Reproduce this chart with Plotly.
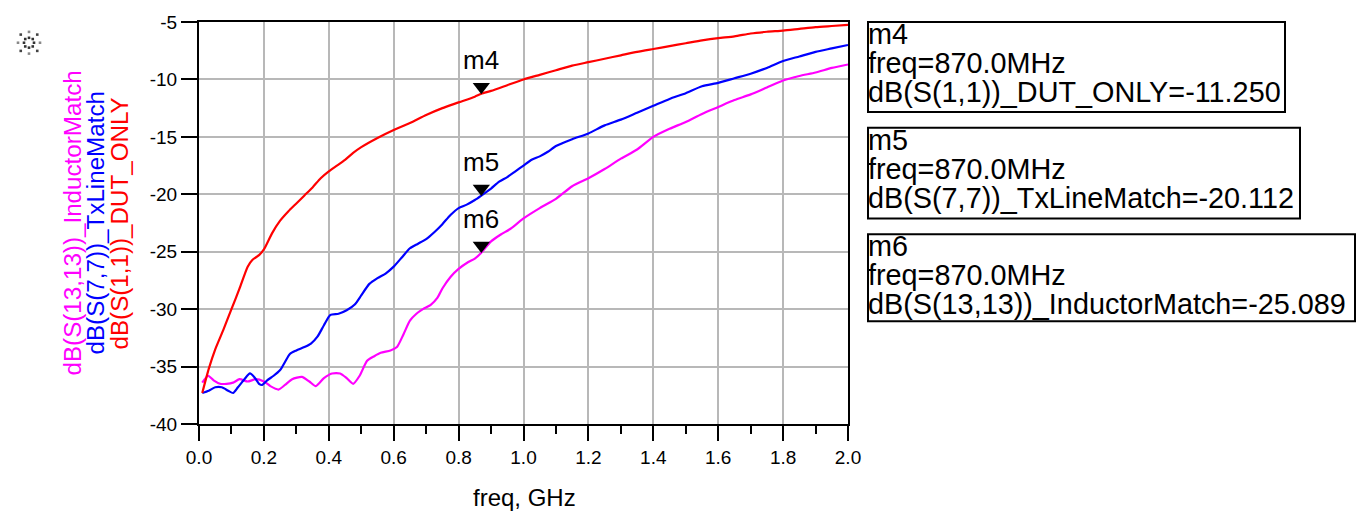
import plotly.graph_objects as go

# ---------------- data ----------------
freq_dut = [0.01, 0.03, 0.05, 0.075, 0.1, 0.125, 0.15, 0.165, 0.185, 0.2, 0.225, 0.25, 0.275, 0.3,
            0.325, 0.35, 0.375, 0.4, 0.425, 0.45, 0.475, 0.5, 0.55, 0.6, 0.65, 0.7, 0.75, 0.8, 0.85,
            0.87, 0.9, 0.95, 1.0, 1.05, 1.1, 1.15, 1.2, 1.25, 1.3, 1.35, 1.4, 1.45, 1.5, 1.55, 1.6,
            1.65, 1.7, 1.75, 1.8, 1.85, 1.9, 1.95, 2.0]
s11_dut = [-37.3, -35.2, -33.5, -31.8, -30.0, -28.2, -26.3, -25.7, -25.3, -24.8, -23.4, -22.3, -21.5,
           -20.8, -20.1, -19.4, -18.6, -18.0, -17.5, -17.0, -16.4, -15.9, -15.1, -14.4, -13.8, -13.1,
           -12.5, -12.0, -11.5, -11.25, -11.0, -10.5, -10.0, -9.6, -9.2, -8.8, -8.5, -8.2, -7.9, -7.6,
           -7.35, -7.1, -6.85, -6.6, -6.4, -6.25, -6.0, -5.85, -5.75, -5.6, -5.45, -5.35, -5.25]

freq_tx = [0.01, 0.03, 0.05, 0.07, 0.09, 0.105, 0.12, 0.14, 0.157, 0.17, 0.185, 0.195, 0.21, 0.23,
           0.25, 0.265, 0.28, 0.3, 0.325, 0.345, 0.365, 0.385, 0.405, 0.43, 0.455, 0.48, 0.5, 0.525,
           0.55, 0.575, 0.6, 0.625, 0.65, 0.675, 0.7, 0.725, 0.75, 0.775, 0.8, 0.825, 0.85, 0.87,
           0.9, 0.925, 0.95, 0.975, 1.0, 1.025, 1.05, 1.075, 1.1, 1.15, 1.2, 1.25, 1.3, 1.35, 1.4,
           1.45, 1.5, 1.55, 1.6, 1.65, 1.7, 1.75, 1.8, 1.85, 1.9, 1.95, 2.0]
s77_tx = [-37.3, -37.1, -36.8, -36.8, -37.1, -37.3, -36.8, -36.1, -35.6, -35.9, -36.5, -36.6, -36.2,
          -35.8, -35.3, -34.6, -33.9, -33.6, -33.3, -33.0, -32.4, -31.4, -30.5, -30.4, -30.1, -29.6,
          -28.8, -27.8, -27.3, -26.9, -26.3, -25.5, -24.7, -24.3, -23.9, -23.3, -22.6, -21.8, -21.2,
          -20.9, -20.5, -20.112, -19.5, -18.9, -18.5, -18.0, -17.5, -17.0, -16.7, -16.3, -15.8, -15.2,
          -14.7, -14.0, -13.5, -12.9, -12.3, -11.7, -11.2, -10.6, -10.3, -9.9, -9.5, -9.0, -8.4, -8.0,
          -7.6, -7.3, -7.0]

freq_ind = [0.01, 0.028, 0.045, 0.065, 0.085, 0.105, 0.125, 0.15, 0.175, 0.2, 0.22, 0.245, 0.265,
            0.287, 0.317, 0.34, 0.36, 0.385, 0.41, 0.435, 0.455, 0.475, 0.495, 0.518, 0.54, 0.56,
            0.59, 0.61, 0.63, 0.65, 0.67, 0.69, 0.715, 0.735, 0.75, 0.775, 0.8, 0.83, 0.85, 0.87,
            0.9, 0.93, 0.96, 1.0, 1.05, 1.1, 1.15, 1.2, 1.25, 1.3, 1.35, 1.4, 1.45, 1.5, 1.55, 1.6,
            1.65, 1.7, 1.75, 1.8, 1.85, 1.9, 1.95, 2.0]
s1313_ind = [-36.4, -35.8, -36.2, -36.5, -36.5, -36.4, -36.1, -36.3, -36.1, -36.3, -36.7, -37.0,
             -36.6, -36.1, -35.9, -36.3, -36.7, -36.0, -35.6, -35.6, -36.0, -36.5, -35.8, -34.5,
             -34.1, -33.8, -33.6, -33.3, -32.2, -31.0, -30.4, -30.0, -29.6, -29.0, -28.2, -27.2,
             -26.5, -25.9, -25.6, -25.089, -24.1, -23.5, -23.0, -22.1, -21.2, -20.4, -19.3, -18.6,
             -17.8, -16.9, -16.1, -15.0, -14.3, -13.7, -13.0, -12.4, -11.8, -11.3, -10.7, -10.1,
             -9.7, -9.4, -9.0, -8.7]

marker_names = ["m4", "m5", "m6"]
marker_freq = [0.87, 0.87, 0.87]
marker_vals = [-11.250, -20.112, -25.089]
marker_labels = ["dB(S(1,1))_DUT_ONLY", "dB(S(7,7))_TxLineMatch", "dB(S(13,13))_InductorMatch"]
marker_freq_text = ["870.0MHz", "870.0MHz", "870.0MHz"]

x_ticks = [0.0, 0.2, 0.4, 0.6, 0.8, 1.0, 1.2, 1.4, 1.6, 1.8, 2.0]
x_tick_text = ["0.0", "0.2", "0.4", "0.6", "0.8", "1.0", "1.2", "1.4", "1.6", "1.8", "2.0"]
y_ticks = [-5, -10, -15, -20, -25, -30, -35, -40]
y_tick_text = ["-5", "-10", "-15", "-20", "-25", "-30", "-35", "-40"]

trace_names = ["dB(S(13,13))_InductorMatch", "dB(S(7,7))_TxLineMatch", "dB(S(1,1))_DUT_ONLY"]
colors = ["#ff00ff", "#0000ff", "#ff0000"]

# ---------------- layout geometry (pixels) ----------------
W, H = 1362, 512
L, R, T, B = 199, 848, 17, 424
FONT = "Liberation Sans, Arial, Helvetica, sans-serif"


def pxx(px):
    return (px - L) / (R - L)


def pxy(py):
    return (B - py) / (B - T)


fig = go.Figure()

fig.add_trace(go.Scatter(x=freq_ind, y=s1313_ind, mode="lines", name=trace_names[0],
                         line=dict(color=colors[0], width=2.2, shape="spline", smoothing=0.6)))
fig.add_trace(go.Scatter(x=freq_tx, y=s77_tx, mode="lines", name=trace_names[1],
                         line=dict(color=colors[1], width=2.2, shape="spline", smoothing=0.6)))
fig.add_trace(go.Scatter(x=freq_dut, y=s11_dut, mode="lines", name=trace_names[2],
                         line=dict(color=colors[2], width=2.2, shape="spline", smoothing=0.6)))

# marker triangles (tip on the curve)
fig.add_trace(go.Scatter(x=marker_freq, y=[v + 0.62 for v in marker_vals], mode="markers",
                         marker=dict(symbol="triangle-down", size=15, color="black"),
                         showlegend=False, hoverinfo="skip"))

annotations = []
for name, fx, v in zip(marker_names, marker_freq, marker_vals):
    annotations.append(dict(x=fx, y=v, xref="x", yref="y", text=name, showarrow=False,
                            yshift=34, font=dict(size=26, color="black", family=FONT)))

# marker readout boxes
boxes = [(868, 17, 1285, 108), (868, 124, 1300, 216), (868, 232, 1355, 320)]
shapes = []
for i, (x0, y0, x1, y1) in enumerate(boxes):
    shapes.append(dict(type="rect", xref="paper", yref="paper", x0=pxx(x0), x1=pxx(x1),
                       y0=pxy(y1), y1=pxy(y0), line=dict(color="black", width=2)))
    lines = [marker_names[i], "freq=" + marker_freq_text[i],
             "%s=%.3f" % (marker_labels[i], marker_vals[i])]
    for j, txt in enumerate(lines):
        annotations.append(dict(x=pxx(866), y=pxy(y0 + 12 + 29.5 * j), xref="paper", yref="paper",
                                text=txt, showarrow=False, xanchor="left", yanchor="middle",
                                font=dict(size=28.8, color="black", family=FONT)))

# y-axis titles (three coloured, rotated)
for name, col, cx in zip(trace_names, colors, [72, 95, 119]):
    annotations.append(dict(x=pxx(cx), y=pxy(221), xref="paper", yref="paper", text=name,
                            showarrow=False, textangle=-90, xanchor="center", yanchor="middle",
                            font=dict(size=24.2, color=col, family=FONT)))

# x-axis title
annotations.append(dict(x=pxx(524), y=pxy(498), xref="paper", yref="paper", text="freq, GHz",
                        showarrow=False, xanchor="center", yanchor="middle",
                        font=dict(size=24, color="black", family=FONT)))

# small decorative icon at top-left
cx0, cy0 = 29, 38
dirs = [(0, -1), (1, -1), (1, 0), (1, 1), (0, 1), (-1, 1), (-1, 0), (-1, -1)]
for dx, dy in dirs:
    axial = (dx == 0 or dy == 0)
    for r, col in [(5, "#333333"), (11, "#888888" if axial else "#444444")]:
        rr = r if axial else r * 0.75
        px_, py_ = cx0 + dx * rr, cy0 + dy * rr
        shapes.append(dict(type="rect", xref="paper", yref="paper",
                           x0=pxx(px_ - 1.3), x1=pxx(px_ + 1.3), y0=pxy(py_ + 1.3), y1=pxy(py_ - 1.3),
                           fillcolor=col, line=dict(width=0)))

fig.update_layout(
    width=W, height=H,
    margin=dict(l=L, r=W - R, t=T, b=H - B, pad=0),
    paper_bgcolor="white", plot_bgcolor="white",
    showlegend=False,
    font=dict(family=FONT, size=19, color="black"),
    annotations=annotations,
    shapes=shapes,
    xaxis=dict(range=[0, 2], tickvals=x_ticks, ticktext=x_tick_text, ticks="outside",
               ticklen=15, tickwidth=2, tickcolor="black",
               minor=dict(dtick=0.1, ticks="outside", ticklen=8, tickwidth=2, tickcolor="black",
                          showgrid=False),
               showgrid=True, gridcolor="#b8b8b8", gridwidth=2,
               showline=True, linecolor="black", linewidth=2, mirror=True,
               zeroline=False, tickfont=dict(size=19, family=FONT, color="black")),
    yaxis=dict(range=[-40, -5], tickvals=y_ticks, ticktext=y_tick_text, ticks="outside",
               ticklen=16, tickwidth=2, tickcolor="black",
               showgrid=True, gridcolor="#b8b8b8", gridwidth=2,
               showline=True, linecolor="black", linewidth=2, mirror=True,
               zeroline=False, tickfont=dict(size=19, family=FONT, color="black")),
)

fig.write_html("out.html")
